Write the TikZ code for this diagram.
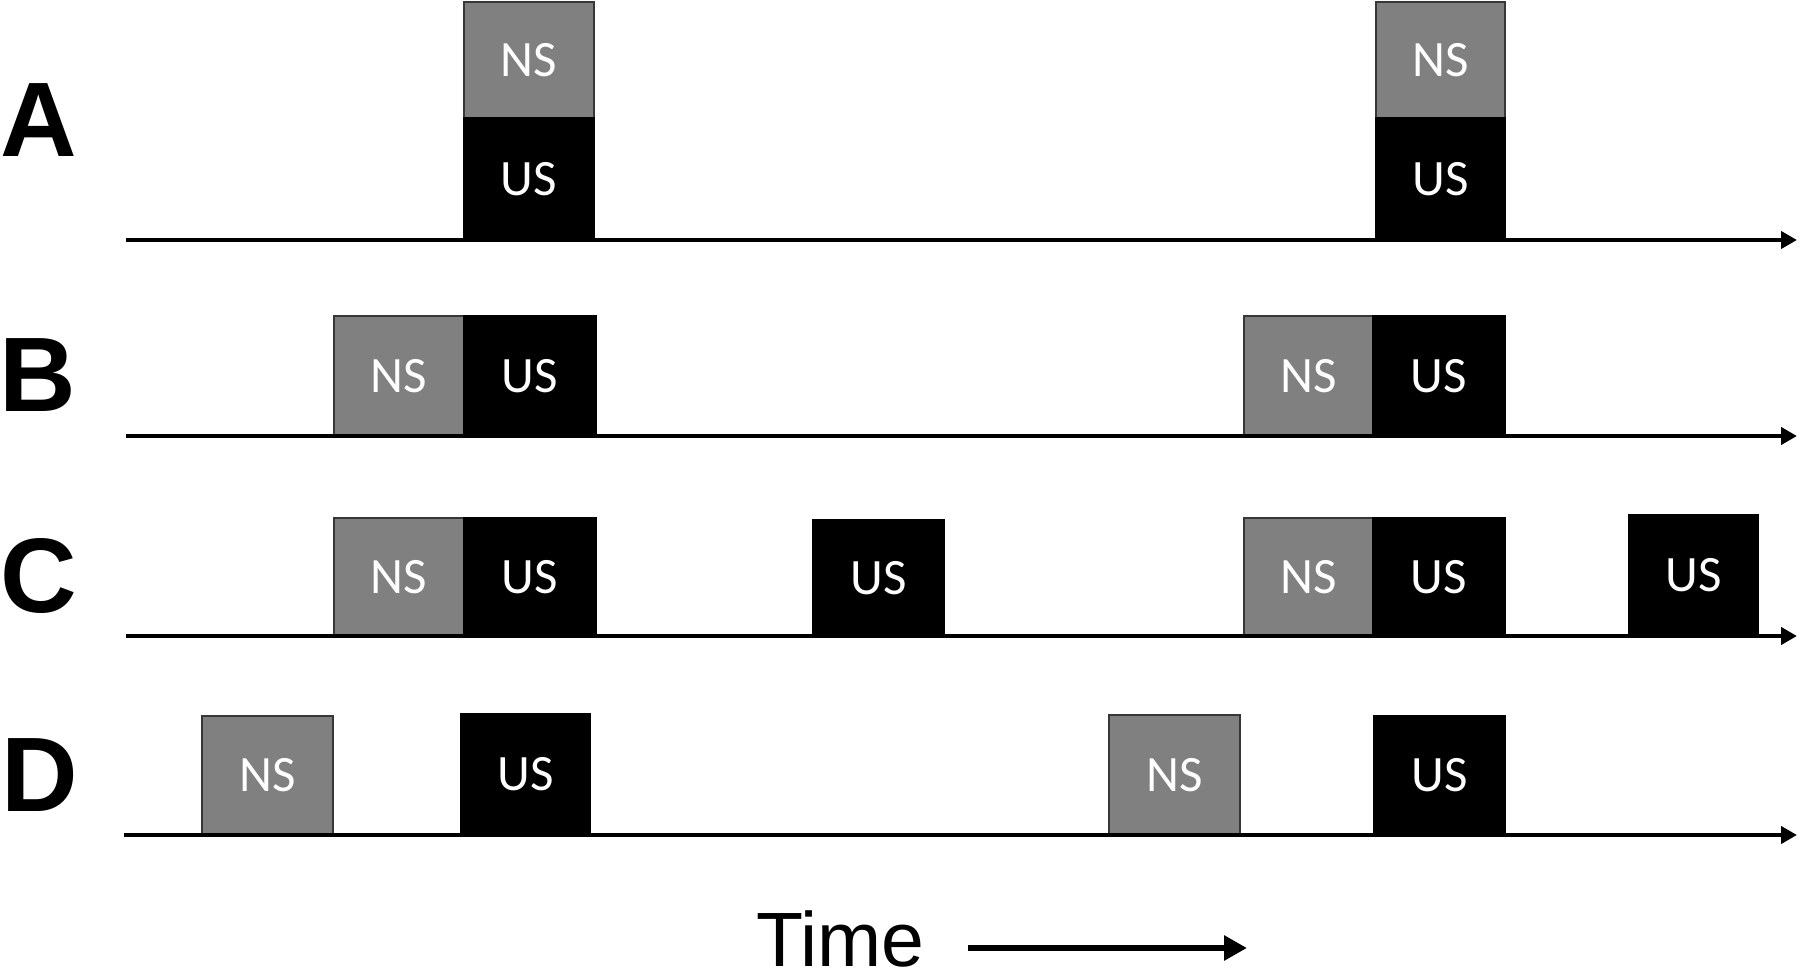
\documentclass[tikz,border=0pt]{standalone}
\usepackage{fontspec}
\setmainfont{Liberation Sans}
\newfontfamily\boxfont{Carlito}
\usetikzlibrary{arrows.meta}
\definecolor{nsgray}{RGB}{128,128,128}
\definecolor{edgegray}{RGB}{55,55,55}
\tikzset{
  nsbox/.style={rectangle, fill=nsgray, draw=edgegray, line width=1.5pt, inner sep=0pt,
    text=white, font=\boxfont\fontsize{51}{54}\selectfont},
  usbox/.style={rectangle, fill=black, draw=black, line width=1.5pt, inner sep=0pt,
    text=white, font=\boxfont\fontsize{51}{54}\selectfont},
  rowlabel/.style={inner sep=0pt, font=\bfseries\fontsize{106}{110}\selectfont},
  axis/.style={line width=4pt, -{Triangle[length=16pt,width=17pt]}},
  timearrow/.style={line width=6pt, -{Triangle[length=23pt,width=24pt]}}
}
\begin{document}
\begin{tikzpicture}[x=1pt,y=-1pt]
\useasboundingbox (0,0) rectangle (1800,974);
% row labels
\node[rowlabel] (lA) at (38.5,120) {A};
\node[rowlabel] (lB) at (38,375) {B};
\node[rowlabel] (lC) at (38.5,576) {C};
\node[rowlabel] (lD) at (39.5,775) {D};
% row A
\node[nsbox, minimum width=130pt, minimum height=116pt] (a1ns) at (529,60) {NS};
\node[usbox, minimum width=130pt, minimum height=122pt] (a1us) at (529,179) {US};
\node[nsbox, minimum width=129pt, minimum height=116pt] (a2ns) at (1440.5,60) {NS};
\node[usbox, minimum width=129pt, minimum height=122pt] (a2us) at (1440.5,179) {US};
% row B
\node[nsbox, minimum width=130pt, minimum height=120pt] (b1ns) at (399,376) {NS};
\node[usbox, minimum width=132pt, minimum height=120pt] (b1us) at (530,376) {US};
\node[nsbox, minimum width=129pt, minimum height=120pt] (b2ns) at (1308.5,376) {NS};
\node[usbox, minimum width=132pt, minimum height=120pt] (b2us) at (1439,376) {US};
% row C
\node[nsbox, minimum width=130pt, minimum height=118pt] (c1ns) at (399,577) {NS};
\node[usbox, minimum width=132pt, minimum height=118pt] (c1us) at (530,577) {US};
\node[usbox, minimum width=131pt, minimum height=116pt] (c2us) at (878.5,578) {US};
\node[nsbox, minimum width=129pt, minimum height=118pt] (c3ns) at (1308.5,577) {NS};
\node[usbox, minimum width=132pt, minimum height=118pt] (c3us) at (1439,577) {US};
\node[usbox, minimum width=129pt, minimum height=121pt] (c4us) at (1693.5,575.5) {US};
% row D
\node[nsbox, minimum width=131pt, minimum height=119pt] (d1ns) at (267.5,775.5) {NS};
\node[usbox, minimum width=129pt, minimum height=121pt] (d1us) at (525.5,774.5) {US};
\node[nsbox, minimum width=131pt, minimum height=120pt] (d2ns) at (1174.5,775) {NS};
\node[usbox, minimum width=131pt, minimum height=119pt] (d2us) at (1439.5,775.5) {US};
% axes
\coordinate (aS) at (126,240); \coordinate (aE) at (1797,240);
\coordinate (bS) at (126,436); \coordinate (bE) at (1797,436);
\coordinate (cS) at (126,636); \coordinate (cE) at (1797,636);
\coordinate (dS) at (124,835); \coordinate (dE) at (1797,835);
\draw[axis] (aS) -- (aE);
\draw[axis] (bS) -- (bE);
\draw[axis] (cS) -- (cE);
\draw[axis] (dS) -- (dE);
% time
\node[inner sep=0pt, anchor=base west, font=\fontsize{77}{80}\selectfont] (time) at (756,966) {Time};
\coordinate (tS) at (968,948); \coordinate (tE) at (1247,948);
\draw[timearrow] (tS) -- (tE);
\end{tikzpicture}
\end{document}
